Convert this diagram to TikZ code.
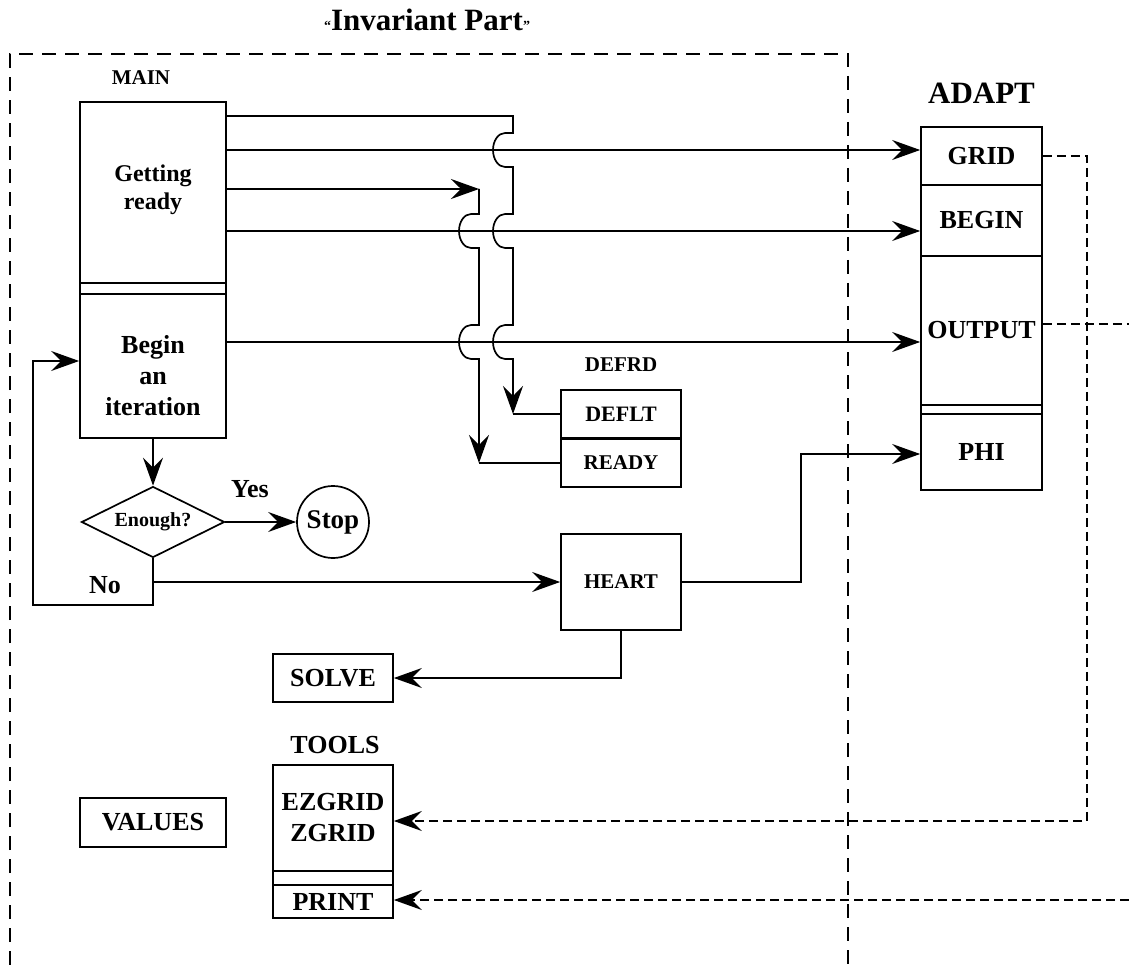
\documentclass[tikz,border=0pt]{standalone}
\usepackage{fontspec}
\setmainfont{Liberation Serif}
\usetikzlibrary{arrows.meta,shapes.geometric}
\newcommand\fsz[2]{\fontsize{#1}{#2}\selectfont\bfseries}
\begin{document}
\begin{tikzpicture}[x=1pt,y=-1pt,
  line width=1.7pt,
  box/.style={draw,line width=1.7pt,inner sep=0pt,font=\fsz{26}{31},align=center},
  lab/.style={inner sep=0pt,font=\fsz{26}{31},align=center},
  arr/.style={-{Stealth[length=28pt,width=20pt,inset=10pt]}},
  frame/.style={dash pattern=on 14pt off 9pt,line width=1.7pt},
  dsh/.style={dash pattern=on 9pt off 5pt,line width=1.7pt}]
\useasboundingbox (0,0) rectangle (1129,965);
% invariant part frame
\draw[frame] (10,965) -- (10,54) -- (848,54) -- (848,965);
\node[lab,font=\fsz{31}{36}] (title) at (427,20) {{\fontsize{14}{14}\selectfont``}Invariant Part{\fontsize{14}{14}\selectfont''}};
% MAIN
\node[lab,font=\fsz{21}{25}] (mainlbl) at (141,78) {MAIN};
\node[box,minimum width=146pt,minimum height=336pt] (main) at (153,270) {};
\node[box,minimum width=146pt,minimum height=11pt] (mainband) at (153,288.5) {};
\node[lab,font=\fsz{24}{28}] (getready) at (153,190) {Getting\\ready};
\node[lab] (beginit) at (153,376) {Begin\\an\\iteration};
% decision
\node[draw,diamond,aspect=2,minimum width=143pt,minimum height=71pt,inner sep=0pt,font=\fsz{20}{24}] (enough) at (153,522) {Enough?};
\node[draw,circle,minimum size=72pt,inner sep=0pt,font=\fsz{27}{32}] (stop) at (333,522) {Stop};
\node[lab] (yes) at (250,489) {Yes};
\node[lab] (no) at (105,585) {No};
% DEFRD
\node[lab,font=\fsz{21}{25}] (defrdlbl) at (621,365) {DEFRD};
\node[box,font=\fsz{22}{26},minimum width=120pt,minimum height=48pt] (deflt) at (621,414) {DEFLT};
\node[box,font=\fsz{21}{25},minimum width=120pt,minimum height=48pt] (ready) at (621,463) {READY};
% HEART, SOLVE
\node[box,font=\fsz{21}{25},minimum width=120pt,minimum height=96pt] (heart) at (621,582) {HEART};
\node[box,minimum width=120pt,minimum height=48pt] (solve) at (333,678) {SOLVE};
% TOOLS
\node[lab] (toolslbl) at (335,745) {TOOLS};
\node[box,minimum width=120pt,minimum height=106pt] (ezgrid) at (333,818) {EZGRID\\ZGRID};
\node[box,minimum width=120pt,minimum height=14pt] (toolsband) at (333,878) {};
\node[box,minimum width=120pt,minimum height=33pt] (print) at (333,901.5) {PRINT};
% VALUES
\node[box,line width=2.2pt,minimum width=146pt,minimum height=49pt] (values) at (153,822.5) {VALUES};
% ADAPT
\node[lab,font=\fsz{31}{36}] (adaptlbl) at (981.5,93) {ADAPT};
\node[box,minimum width=121pt,minimum height=58pt] (grid) at (981.5,156) {GRID};
\node[box,minimum width=121pt,minimum height=71pt] (begin) at (981.5,220.5) {BEGIN};
\node[box,minimum width=121pt,minimum height=149pt] (output) at (981.5,330.5) {OUTPUT};
\node[box,minimum width=121pt,minimum height=9pt] (aband) at (981.5,409.5) {};
\node[box,minimum width=121pt,minimum height=76pt] (phi) at (981.5,452) {PHI};
% connector end points
\coordinate (a1) at (513,414);
\coordinate (b0) at (479,189);
\coordinate (b1) at (479,463);
\coordinate (outR) at (1129,324);
\coordinate (prR) at (1129,900);
% line A (to DEFLT) with hops
\draw[arr] (main.east |- 0,116) -- (513,116) -- (513,133) -- (505,133)
  arc[start angle=90,end angle=270,x radius=12pt,y radius=17pt] -- (513,167)
  -- (513,214) -- (505,214)
  arc[start angle=90,end angle=270,x radius=12pt,y radius=17pt] -- (513,248)
  -- (513,325) -- (505,325)
  arc[start angle=90,end angle=270,x radius=12pt,y radius=17pt] -- (513,359)
  -- (a1);
\draw (a1) -- (deflt.west);
% line B (to READY) with hops
\draw[arr] (main.east |- b0) -- (b0);
\draw[arr] (b0) -- (479,214) -- (471,214)
  arc[start angle=90,end angle=270,x radius=12pt,y radius=17pt] -- (479,248)
  -- (479,325) -- (471,325)
  arc[start angle=90,end angle=270,x radius=12pt,y radius=17pt] -- (479,359)
  -- (b1);
\draw (b1) -- (ready.west);
% lines to ADAPT
\draw[arr] (main.east |- 0,150) -- (grid.west |- 0,150);
\draw[arr] (main.east |- 0,231) -- (begin.west |- 0,231);
\draw[arr] (main.east |- 0,342) -- (output.west |- 0,342);
% flow
\draw[arr] (main.south) -- (enough.north);
\draw[arr] (enough.east) -- (stop.west);
\draw[arr] (enough.south) -- (153,605) -- (33,605) -- (33,361) -- (main.west |- 0,361);
\draw[arr] (enough.south |- heart.west) -- (heart.west);
\draw[arr] (heart.east) -- (801,582) |- (phi.west |- 0,454);
\draw[arr] (heart.south) |- (solve.east);
% dashed links
\draw[dsh,arr] (grid.east) -- (1087,156) |- (ezgrid.east |- 0,821);
\draw[dsh] (output.east |- outR) -- (outR);
\draw[dsh,arr] (prR) -- (print.east |- prR);
\end{tikzpicture}
\end{document}
